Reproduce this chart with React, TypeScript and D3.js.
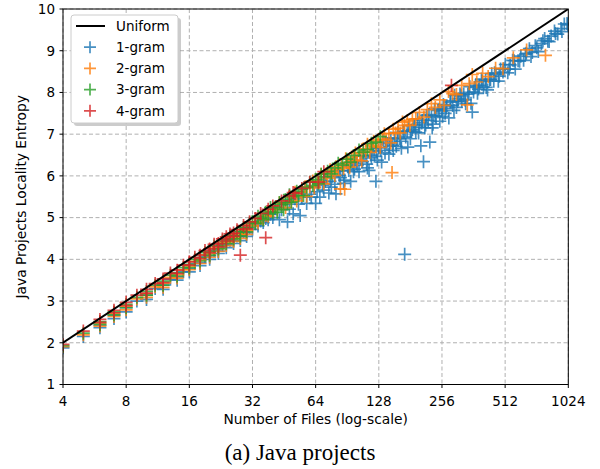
import React from "react";
import * as d3 from "d3";

const xTicks = [4, 8, 16, 32, 64, 128, 256, 512, 1024];
const yTicks = [1, 2, 3, 4, 5, 6, 7, 8, 9, 10];
const uniformLine: [number, number][] = [[4, 2], [1024, 10]];

const gram1: [number, number][] = [
  [4,1.88],[5,2.15],[6,2.42],[6,2.36],[7,2.66],[7,2.58],[8,2.84],[8,2.74],[9,3.00],[10,3.14],[10,3.04],[11,3.30],[12,3.38],[12,3.28],[13,3.52],[14,3.58],[14,3.50],[15,3.70],[16,3.78],[16,3.70],[17,3.90],[18,3.92],[18,3.85],[19,4.06],[20,4.08],[20,4.00],[21,4.22],[22,4.20],[22,4.14],[23,4.34],[24,4.36],[24,4.28],[25,4.46],[26,4.45],[26,4.38],[27,4.56],[28,4.55],[28,4.45],[29,4.66],[30,4.64],[30,4.55],[31,4.76],[32,4.72],[33,4.85],[34,4.80],[35,4.92],[36,4.88],[37,4.98],[38,4.95],[39,5.08],
  [40,5.00],[41,5.21],[43,4.95],[44,5.19],[46,5.32],[47,4.90],[48,5.20],[50,5.09],[51,5.45],[53,5.32],[54,5.05],[55,5.49],[57,5.71],[58,5.34],[60,5.56],[61,5.49],[63,5.73],[64,5.34],[66,5.86],[67,5.49],[69,5.78],[70,5.66],[72,5.96],[74,5.59],[75,5.87],[77,5.99],[79,5.80],[80,5.57],[82,6.12],[84,5.96],[86,6.12],[88,5.90],[90,6.32],[92,6.13],[94,5.87],[96,6.32],[98,6.16],[100,6.30],[103,6.10],[105,6.48],[107,6.34],[110,6.48],[112,6.28],[115,6.13],[117,6.50],[120,6.66],[122,6.47],[124,5.87],[126,6.38],[128,6.67],[131,6.61],[134,6.86],[137,6.55],[140,6.77],[143,6.52],[146,6.91],[149,6.73],[152,6.90],[155,6.71],[158,7.04],[161,6.89],[164,6.66],[167,7.07],[170,4.12],[172,6.93],[175,7.07],[178,7.21],[181,6.89],[185,7.11],[188,7.22],[192,7.05],[196,7.37],[200,7.17],[203,6.72],[206,7.33],[209,6.34],[212,7.15],[216,7.45],[220,7.33],[224,6.81],[228,7.44],[232,7.24],[236,7.60],[240,7.40],[245,7.57],[250,7.31],[255,7.56],[260,7.71],[265,7.50],[270,7.68],[276,7.39],[282,7.80],[288,7.69],[294,7.93],[300,7.64],[306,7.85],[312,7.96],[318,7.79],[325,7.96],[332,7.73],[340,7.96],[347,8.14],[357,7.53],[362,8.01],[370,8.17],[378,7.98],[386,8.17],[395,8.32],[404,8.13],[413,8.30],[422,8.06],[432,8.31],[442,8.45],[452,8.27],[463,8.44],[475,8.27],[487,8.56],[500,8.49],[513,8.67],[527,8.47],[541,8.66],[556,8.77],[572,8.56],[590,8.76],[608,8.87],[627,8.77],[646,8.94],[668,9.05],[690,8.96],[713,9.12],[737,8.98],[762,9.17],[790,9.29],[818,9.23],[848,9.35],[880,9.47],[912,9.40],[945,9.53],[980,9.64],[1010,9.65],
  [65,5.62],[71,5.87],[76,5.73],[83,6.01],[87,5.82],[91,6.22],[97,6.10],[101,6.26],[108,6.48],[113,6.19],[118,6.43],[125,6.59],[132,6.33],[138,6.81],[144,6.71],[150,6.61],[157,6.89],[163,6.83],[169,7.06],[176,6.69],[183,7.07],[190,7.22],[198,7.03],[205,7.27],[214,7.22],[222,7.47],[230,7.15],[238,7.43],[248,7.60],[258,7.43],[268,7.62],[280,7.77],[292,7.57],[304,7.78],[316,7.92],[330,7.82],[344,8.00],[352,7.74],[366,8.12],[382,8.08],[398,8.27],[416,8.12],[436,8.31],[456,8.47],[480,8.39],[505,8.57],[535,8.56],[565,8.76],[600,8.75],[640,8.92],[680,8.86],[725,9.07],[775,9.24],[830,9.22],[890,9.41],[955,9.46],[1020,9.62]
];

const gram2: [number, number][] = [
  [4,1.91],[5,2.19],[6,2.47],[6,2.40],[7,2.70],[7,2.63],[8,2.88],[8,2.79],[9,3.05],[10,3.18],[10,3.09],[11,3.34],[12,3.43],[12,3.33],[13,3.57],[14,3.63],[14,3.55],[15,3.75],[16,3.83],[16,3.75],[17,3.95],[18,3.98],[18,3.90],[19,4.11],[20,4.14],[20,4.05],[21,4.27],[22,4.26],[22,4.19],[23,4.39],[24,4.42],[24,4.33],[25,4.51],[26,4.51],[26,4.43],[27,4.61],[28,4.61],[28,4.50],[29,4.71],[30,4.70],[30,4.60],[31,4.82],[32,4.80],[33,4.90],[34,4.87],[35,4.98],[36,4.96],[37,5.05],[38,5.03],[39,5.15],
  [40,5.20],[42,5.19],[43,5.35],[45,5.34],[46,5.24],[48,5.49],[49,5.39],[51,5.61],[52,5.40],[54,5.61],[55,5.53],[57,5.74],[58,5.51],[60,5.74],[62,5.88],[63,5.71],[65,5.89],[67,5.86],[68,6.04],[70,5.81],[72,6.06],[73,5.95],[75,6.15],[77,6.09],[79,6.01],[80,6.22],[82,6.16],[84,5.69],[85,6.27],[87,6.18],[88,5.68],[89,6.41],[91,6.32],[93,6.21],[95,6.45],[97,6.37],[99,6.55],[101,6.38],[104,6.55],[106,6.36],[108,6.65],[111,6.58],[113,6.76],[116,6.56],[118,6.72],[121,6.83],[124,6.70],[127,6.86],[130,6.68],[133,6.88],[136,7.01],[139,6.85],[143,7.02],[146,6.79],[148,6.08],[150,7.12],[154,7.03],[158,7.14],[162,7.03],[166,7.29],[170,7.21],[175,7.32],[180,7.21],[185,7.36],
  [192,7.37],[200,7.52],[210,7.41],[218,7.59],[228,7.73],[238,7.64],[250,7.82],[262,7.69],[275,8.02],[288,7.97],[300,7.95],[318,8.17],[338,7.70],[345,8.21],[357,8.43],[375,8.25],[400,8.46],[425,8.38],[461,8.58],[500,8.57],[560,8.83],[648,9.02],[797,8.89]
];

const gram3: [number, number][] = [
  [4,1.93],[5,2.23],[6,2.51],[6,2.44],[7,2.74],[7,2.67],[8,2.92],[8,2.84],[9,3.09],[10,3.23],[10,3.14],[11,3.38],[12,3.48],[12,3.38],[13,3.62],[14,3.68],[14,3.60],[15,3.80],[16,3.88],[16,3.80],[17,4.00],[18,4.04],[18,3.96],[19,4.16],[20,4.19],[20,4.10],[21,4.32],[22,4.32],[22,4.25],[23,4.44],[24,4.48],[24,4.38],[25,4.56],[26,4.57],[26,4.49],[27,4.66],[28,4.67],[28,4.56],[29,4.76],[30,4.76],[30,4.66],[31,4.87],
  [32,4.90],[33,4.86],[34,5.03],[35,4.99],[36,4.95],[37,5.13],[38,5.09],[39,5.24],[40,5.12],[41,5.25],[42,5.13],[43,5.36],[44,5.31],[45,5.19],[46,5.43],[47,5.36],[48,5.55],[49,5.37],[50,5.52],[52,5.63],[53,5.53],[55,5.68],[56,5.53],[58,5.73],[60,5.85],[62,5.77],[64,5.91],[66,5.81],[68,6.04],[70,5.98],[73,6.11],[76,6.05],[79,6.19],[82,6.30],[86,6.26],[90,6.40],[94,6.33],[98,6.49],[103,6.62],[108,6.57],[113,6.63],[118,6.78],[124,6.81],[130,6.94]
];

const gram4: [number, number][] = [
  [4,1.96],[5,2.28],[6,2.56],[6,2.49],[7,2.78],[7,2.72],[8,2.97],[8,2.89],[9,3.14],[10,3.28],[10,3.19],[11,3.42],[12,3.53],[12,3.44],[13,3.67],[14,3.74],[14,3.66],[15,3.86],[16,3.94],[16,3.86],[17,4.05],[18,4.10],[18,4.02],[19,4.21],[20,4.25],[20,4.16],[21,4.36],[22,4.38],[22,4.30],[23,4.49],[24,4.54],[24,4.44],[25,4.61],[26,4.63],[26,4.55],[27,4.71],[28,4.10],[29,4.81],[30,4.73],[31,4.90],[33,4.98],[35,5.10],[37,4.52],[38,5.20],[40,5.28],[44,5.40],[48,5.52],[50,5.60],[51,5.58],[55,5.70],[60,5.85],[66,5.85],[70,6.10],[284,8.17]
];

const seriesNames = ["1-gram", "2-gram", "3-gram", "4-gram"];
const seriesData = [gram1, gram2, gram3, gram4];
const seriesColors = ["#1f77b4", "#ff7f0e", "#2ca02c", "#d62728"];

const W = 600, H = 469;
const left = 63, right = 568.3, top = 9, bottom = 384.5;
const font = "'DejaVu Sans', sans-serif";

function Plus({ cx, cy, s, color }: { cx: number; cy: number; s: number; color: string }) {
  return (
    <path d={`M${cx - s},${cy}H${cx + s}M${cx},${cy - s}V${cy + s}`} stroke={color} strokeWidth={1.7} fill="none" strokeOpacity={0.82} />
  );
}

export default function App() {
  const x = d3.scaleLog().base(2).domain([4, 1024]).range([left, right]);
  const y = d3.scaleLinear().domain([1, 10]).range([bottom, top]);
  const line = d3.line<[number, number]>().x(d => x(d[0])).y(d => y(d[1]));
  const legendItems = ["Uniform", ...seriesNames];
  return (
    <svg width={W} height={H} style={{ display: "block", position: "absolute", left: 0, top: 0 }} fontFamily={font}>
      <rect width={W} height={H} fill="#fff" />
      <defs>
        <clipPath id="clip"><rect x={left} y={top} width={right - left} height={bottom - top} /></clipPath>
      </defs>
      {xTicks.map(t => (
        <line key={"gx" + t} x1={x(t)} x2={x(t)} y1={top} y2={bottom} stroke="#b0b0b0" strokeWidth={1} strokeDasharray="4,2.5" />
      ))}
      {yTicks.map(t => (
        <line key={"gy" + t} x1={left} x2={right} y1={y(t)} y2={y(t)} stroke="#b0b0b0" strokeWidth={1} strokeDasharray="4,2.5" />
      ))}
      <g clipPath="url(#clip)">
        {seriesData.map((data, i) => (
          <g key={i}>
            {data.map((d, j) => (
              <Plus key={j} cx={x(d[0])} cy={y(d[1])} s={6.5} color={seriesColors[i]} />
            ))}
          </g>
        ))}
        <path d={line(uniformLine) || ""} stroke="#000" strokeWidth={2} fill="none" />
      </g>
      <rect x={left} y={top} width={right - left} height={bottom - top} fill="none" stroke="#000" strokeWidth={1} />
      {xTicks.map(t => (
        <g key={"tx" + t}>
          <line x1={x(t)} x2={x(t)} y1={bottom} y2={bottom + 3.5} stroke="#000" />
          <text x={x(t)} y={405.5} textAnchor="middle" fontSize={13.5}>{t}</text>
        </g>
      ))}
      {yTicks.map(t => (
        <g key={"ty" + t}>
          <line x1={left - 3.5} x2={left} y1={y(t)} y2={y(t)} stroke="#000" />
          <text x={left - 8} y={y(t)} dy="0.36em" textAnchor="end" fontSize={13.5}>{t}</text>
        </g>
      ))}
      <text x={(left + right) / 2} y={424} textAnchor="middle" fontSize={13.8}>Number of Files (log-scale)</text>
      <text transform={`translate(26,${(top + bottom) / 2}) rotate(-90)`} textAnchor="middle" fontSize={13.8}>Java Projects Locality Entropy</text>
      <rect x={74} y={18} width={107} height={108} rx={3} fill="#999" opacity={0.5} />
      <rect x={71} y={15} width={107} height={108} rx={3} fill="#fff" stroke="#ccc" strokeWidth={1} />
      {legendItems.map((name, i) => {
        const ly = 26 + i * 21.2;
        return (
          <g key={name}>
            {i === 0 ? (
              <line x1={76} x2={105} y1={ly} y2={ly} stroke="#000" strokeWidth={2} />
            ) : (
              <Plus cx={90} cy={ly} s={6} color={seriesColors[i - 1]} />
            )}
            <text x={116} y={ly} dy="0.36em" fontSize={13.5}>{name}</text>
          </g>
        );
      })}
      <text x={300} y={460} textAnchor="middle" fontSize={23} fontFamily="'Liberation Serif', serif">(a) Java projects</text>
    </svg>
  );
}
